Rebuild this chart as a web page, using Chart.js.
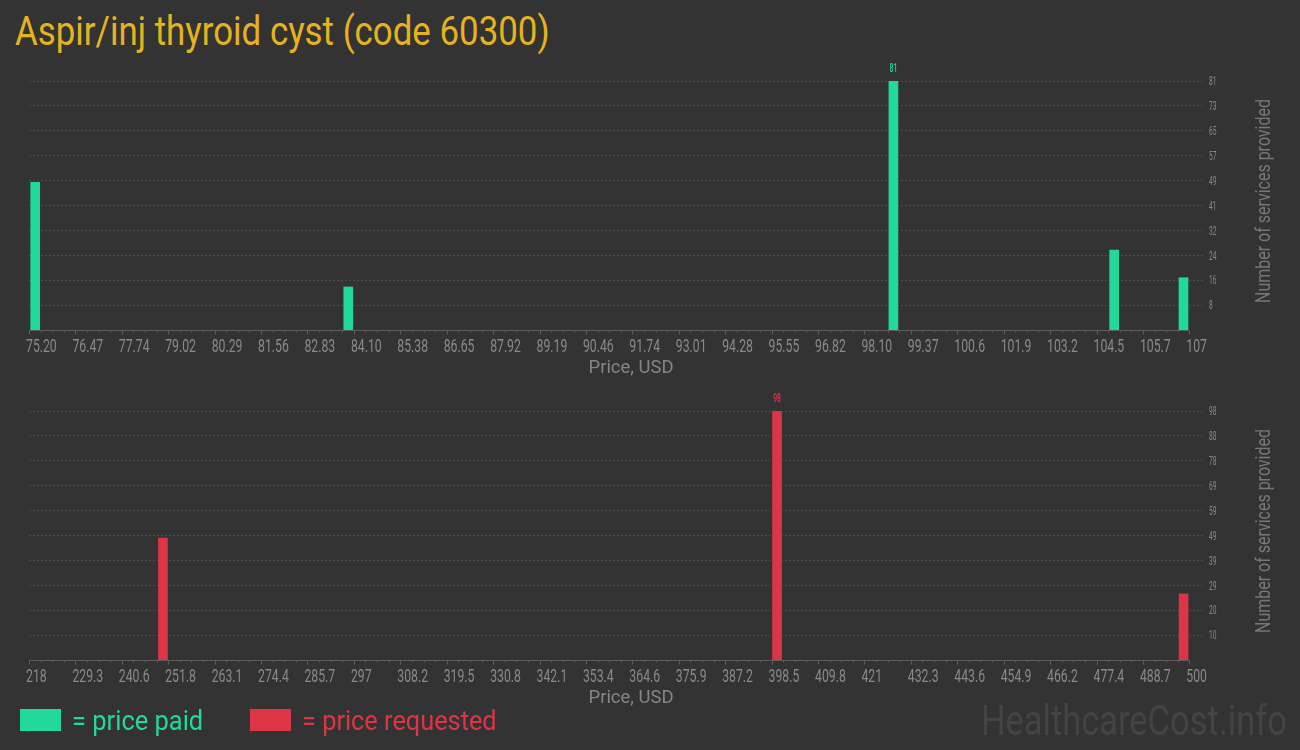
<!DOCTYPE html>
<html>
<head>
<meta charset="utf-8">
<script src="https://cdn.jsdelivr.net/npm/chart.js@4.4.1/dist/chart.umd.min.js"></script>
<style>
  html, body { margin: 0; padding: 0; background: #333333; }
  body { width: 1300px; height: 750px; position: relative; overflow: hidden; font-family: Roboto, sans-serif; }
  .fit { position: absolute; white-space: nowrap; transform-origin: left top; }
  #title { left: 15px; top: 12px; font-size: 40px; line-height: 40px; color: #e6b31e; }
  .chartBox { position: absolute; left: 0; width: 1300px; height: 330px; }
  #paidBox { top: 50px; }
  #requestedBox { top: 380px; }
  .swatch { position: absolute; top: 709px; width: 41px; height: 22px; }
  .legendText { top: 708px; font-size: 27px; line-height: 27px; }
  #watermark { right: 13px; top: 700px; font-size: 42px; line-height: 42px; color: #444444; transform-origin: right top; }
</style>
</head>
<body>
<div class="fit" id="title" data-w="535">Aspir/inj thyroid cyst (code 60300)</div>
<div class="chartBox" id="paidBox"><canvas id="paidChart" width="1300" height="330"></canvas></div>
<div class="chartBox" id="requestedBox"><canvas id="requestedChart" width="1300" height="330"></canvas></div>

<div class="swatch" style="left:20px; background:#21d99a;"></div>
<div class="fit legendText" data-w="131" style="left:72px; color:#21d99a;">= price paid</div>
<div class="swatch" style="left:250px; background:#dc3545;"></div>
<div class="fit legendText" data-w="195" style="left:302px; color:#dc3545;">= price requested</div>
<div class="fit" id="watermark" data-w="306">HealthcareCost.info</div>

<script>
// --- data ---
const paidPrices = [75.37, 83.95, 98.89, 104.94, 106.84];
const paidCounts = [48, 14, 81, 26, 17];
const paidTicks = ['75.20', '76.47', '77.74', '79.02', '80.29', '81.56', '82.83', '84.10', '85.38',
    '86.65', '87.92', '89.19', '90.46', '91.74', '93.01', '94.28', '95.55', '96.82', '98.10',
    '99.37', '100.6', '101.9', '103.2', '104.5', '105.7', '107'];

const requestedPrices = [250.55, 399.8, 498.6];
const requestedCounts = [48, 98, 26];
const requestedTicks = ['218', '229.3', '240.6', '251.8', '263.1', '274.4', '285.7', '297', '308.2',
    '319.5', '330.8', '342.1', '353.4', '364.6', '375.9', '387.2', '398.5', '409.8', '421',
    '432.3', '443.6', '454.9', '466.2', '477.4', '488.7', '500'];

const FONT = 'Roboto, sans-serif';
const GREEN = '#21d99a';
const RED = '#dc3545';

// the original uses a condensed face; squeeze Roboto horizontally instead
document.querySelectorAll('.fit').forEach(el => {
    el.style.transform = 'scaleX(' + (el.dataset.w / el.offsetWidth) + ')';
});

function squeezed(ctx, text, x, y, font, sx, align, color) {
    ctx.save();
    ctx.font = font;
    ctx.fillStyle = color;
    ctx.textBaseline = 'alphabetic';
    const w = ctx.measureText(text).width * sx;
    let left = x;
    if (align === 'center') left = x - w / 2;
    if (align === 'right') left = x - w;
    ctx.translate(left, y);
    ctx.scale(sx, 1);
    ctx.textAlign = 'left';
    ctx.fillText(text, 0, 0);
    ctx.restore();
}

// axis line with major/minor ticks, tick labels, titles, label over the tallest bar
const axisDecor = {
    id: 'axisDecor',
    afterDraw(chart, args, opts) {
        const ctx = chart.ctx;
        const xs = chart.scales.x;
        const ys = chart.scales.y;
        const area = chart.chartArea;
        const ticks = xs.ticks;
        const y0 = Math.round(area.bottom) + 0.5;

        ctx.save();
        ctx.strokeStyle = '#5c5c5c';
        ctx.lineWidth = 1;
        ctx.beginPath();
        ctx.moveTo(xs.getPixelForValue(ticks[0].value), y0);
        ctx.lineTo(xs.getPixelForValue(ticks[ticks.length - 1].value), y0);
        ticks.forEach((t, i) => {
            const px = Math.round(xs.getPixelForValue(t.value)) + 0.5;
            ctx.moveTo(px, y0);
            ctx.lineTo(px, y0 + 4);
            if (i < ticks.length - 1) {
                const next = ticks[i + 1].value;
                for (let k = 1; k < 4; k++) {
                    const mp = Math.round(xs.getPixelForValue(t.value + (next - t.value) * k / 4)) + 0.5;
                    ctx.moveTo(mp, y0);
                    ctx.lineTo(mp, y0 + 2);
                }
            }
        });
        ctx.stroke();
        ctx.restore();

        // x tick labels, left edge just before the tick
        ticks.forEach((t, i) => {
            squeezed(ctx, opts.xLabels[i], xs.getPixelForValue(t.value) - 3, area.bottom + 21.5,
                '18px ' + FONT, 0.68, 'left', '#8a8a8a');
        });
        // y tick labels
        ys.ticks.forEach(t => {
            squeezed(ctx, String(Math.round(t.value)), area.right + 4, ys.getPixelForValue(t.value) + 4.2,
                '12px ' + FONT, 0.55, 'left', '#8a8a8a');
        });

        // x title
        const xt = 'Price, USD';
        ctx.font = '19px ' + FONT;
        squeezed(ctx, xt, 631, area.bottom + 43, '19px ' + FONT, 85 / ctx.measureText(xt).width, 'center', '#858585');

        // value over the peak bar
        const meta = chart.getDatasetMeta(0);
        const vals = chart.data.datasets[0].data.map(d => d.y);
        const peak = vals.indexOf(Math.max(...vals));
        const bar = meta.data[peak];
        squeezed(ctx, String(vals[peak]), bar.x, bar.y - 9.5, '500 12.5px ' + FONT, 0.55, 'center', opts.color);

        // y axis title, reading bottom to top
        const yt = opts.yTitle;
        ctx.save();
        ctx.font = '19.5px ' + FONT;
        const sy = 204 / ctx.measureText(yt).width;
        ctx.translate(1270, area.top + 120);
        ctx.rotate(-Math.PI / 2);
        squeezed(ctx, yt, 0, 0, '19.5px ' + FONT, sy, 'center', '#777777');
        ctx.restore();
    }
};

function makeChart(id, prices, counts, tickLabels, color) {
    const lo = parseFloat(tickLabels[0]);
    const hi = parseFloat(tickLabels[tickLabels.length - 1]);
    const step = (hi - lo) / (tickLabels.length - 1);
    const peak = Math.max(...counts);

    return new Chart(document.getElementById(id), {
        type: 'bar',
        data: {
            datasets: [{
                data: prices.map((p, i) => ({ x: p, y: counts[i] })),
                backgroundColor: color,
                borderWidth: 0,
                barThickness: 9
            }]
        },
        options: {
            responsive: false,
            animation: false,
            layout: { padding: { left: 29, top: 31, right: 0, bottom: 0 } },
            plugins: {
                legend: { display: false },
                tooltip: { enabled: false },
                axisDecor: { color: color, xLabels: tickLabels, yTitle: 'Number of services provided' }
            },
            scales: {
                x: {
                    type: 'linear',
                    offset: false,
                    min: lo,
                    max: hi + (hi - lo) * 0.0135,
                    grid: { display: false, offset: false },
                    border: { display: false },
                    afterBuildTicks: s => { s.ticks = tickLabels.map((t, i) => ({ value: lo + i * step })); },
                    afterFit: s => { s.height = 50; },
                    ticks: { display: false }
                },
                y: {
                    position: 'right',
                    min: 0,
                    max: peak,
                    grid: { color: '#4c4c4c', drawTicks: false },
                    border: { display: false, dash: [2, 2] },
                    afterBuildTicks: s => {
                        s.ticks = [1, 2, 3, 4, 5, 6, 7, 8, 9, 10].map(k => ({ value: peak * k / 10 }));
                    },
                    afterFit: s => { s.width = 95; },
                    ticks: { display: false }
                }
            }
        },
        plugins: [axisDecor]
    });
}

makeChart('paidChart', paidPrices, paidCounts, paidTicks, GREEN);
makeChart('requestedChart', requestedPrices, requestedCounts, requestedTicks, RED);
</script>
</body>
</html>
